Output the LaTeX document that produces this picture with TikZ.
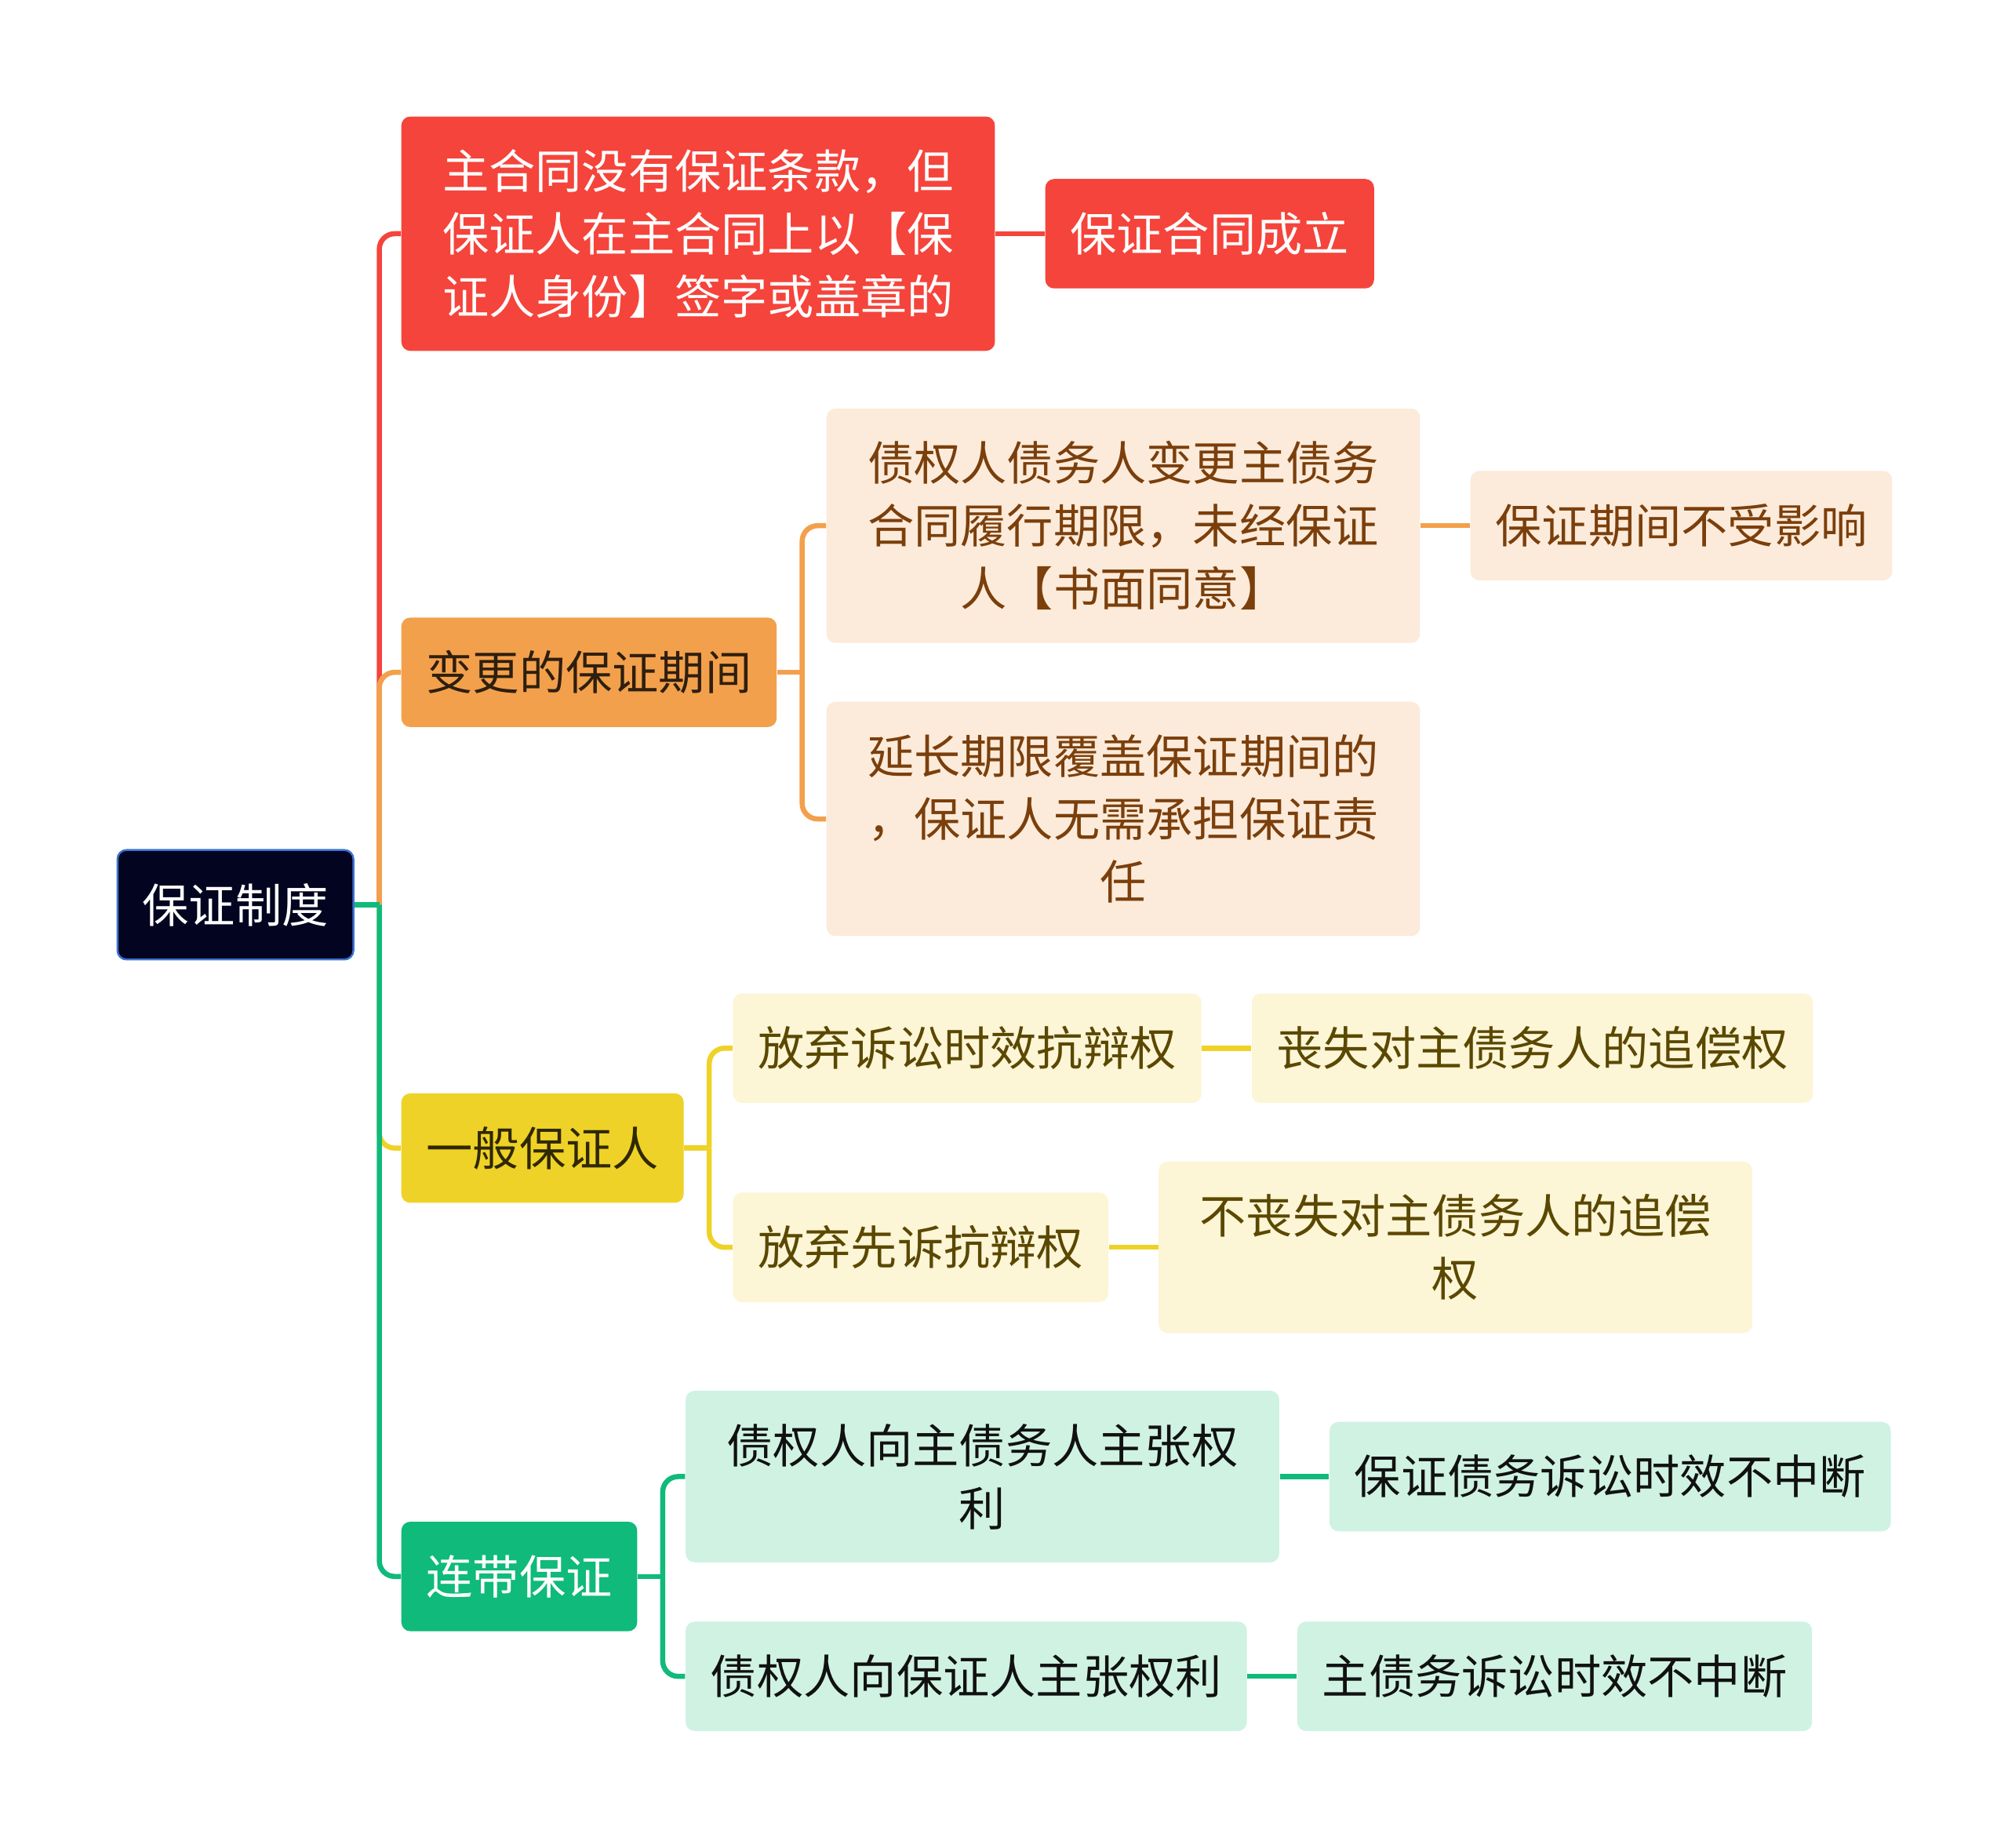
\documentclass[tikz,border=0pt]{standalone}
\usepackage{fontspec}
\newfontfamily\cjk{Noto Sans CJK SC}
\usepackage{xcolor}
\definecolor{cRoot}{HTML}{03041F}
\definecolor{cRootLine}{HTML}{3C72D4}
\definecolor{cRed}{HTML}{F5443B}
\definecolor{cOrg}{HTML}{F3A04C}
\definecolor{cOrgLt}{HTML}{FCEBDA}
\definecolor{cOrgDark}{HTML}{2E1F0E}
\definecolor{cOrgText}{HTML}{7B3F0C}
\definecolor{cYel}{HTML}{EFD227}
\definecolor{cYelLt}{HTML}{FCF5D6}
\definecolor{cYelDark}{HTML}{2F2800}
\definecolor{cYelText}{HTML}{5A4800}
\definecolor{cGrn}{HTML}{0FBA7A}
\definecolor{cGrnLt}{HTML}{CFF2E3}
\definecolor{cGrnText}{HTML}{111111}
\usepackage{tikz}
\usetikzlibrary{positioning}
\tikzset{
  node-base/.style={rounded corners=3.5pt,align=center,
    font=\cjk\fontsize{18.15}{24.5}\selectfont,
    inner xsep=9.75pt,inner ysep=2pt,minimum height=42.75pt},
  node-wide/.style={minimum width=231.75pt},
  node-root/.style={node-base,fill=cRoot,draw=cRootLine,line width=0.75pt,text=white},
  node-red/.style={node-base,fill=cRed,text=white},
  node-org/.style={node-base,fill=cOrg,text=cOrgDark},
  node-org-lt/.style={node-base,fill=cOrgLt,text=cOrgText},
  node-yel/.style={node-base,fill=cYel,text=cYelDark},
  node-yel-lt/.style={node-base,fill=cYelLt,text=cYelText},
  node-grn/.style={node-base,fill=cGrn,text=white},
  node-grn-lt/.style={node-base,fill=cGrnLt,text=cGrnText},
  link/.style={line width=2pt,draw=#1},
  branch/.style={line width=2pt,draw=#1,rounded corners=6pt},
}

\begin{document}
\begin{tikzpicture}[x=0.5pt,y=-0.5pt,node distance=19.25pt]
  \useasboundingbox (0,0) rectangle (1568,1443);

  \node[node-root,anchor=west] (root) at (91,706.5) {保证制度};

  \node[node-red,node-wide,minimum height=91.5pt,anchor=west] (red) at (313,182.5)
    {主合同没有保证条款，但\\保证人在主合同上以【保\\证人身份】签字或盖章的};
  \node[node-red,right=of red] (redA) {保证合同成立};

  \node[node-org,anchor=west] (org) at (313,525) {变更的保证期间};
  \node[node-org-lt,node-wide,minimum height=91.5pt,anchor=west] (orgA) at (645,410.5)
    {债权人债务人变更主债务\\合同履行期限，未经保证\\人【书面同意】};
  \node[node-org-lt,right=of orgA] (orgA1) {保证期间不受影响};
  \node[node-org-lt,node-wide,minimum height=91.5pt,anchor=west] (orgB) at (645,639.5)
    {延长期限覆盖保证期间的\\，保证人无需承担保证责\\任};

  \node[node-yel,anchor=west] (yel) at (313,896.5) {一般保证人};
  \node[node-yel-lt,anchor=west] (yelA) at (572,818.5) {放弃诉讼时效抗辩权};
  \node[node-yel-lt,right=of yelA] (yelA1) {丧失对主债务人的追偿权};
  \node[node-yel-lt,anchor=west] (yelB) at (572,974) {放弃先诉抗辩权};
  \node[node-yel-lt,node-wide,minimum height=67pt,right=of yelB] (yelB1)
    {不丧失对主债务人的追偿\\权};

  \node[node-grn,anchor=west] (grn) at (313,1231) {连带保证};
  \node[node-grn-lt,node-wide,minimum height=67pt,anchor=west] (grnA) at (535,1153)
    {债权人向主债务人主张权\\利};
  \node[node-grn-lt,right=of grnA] (grnA1) {保证债务诉讼时效不中断};
  \node[node-grn-lt,anchor=west] (grnB) at (535,1309) {债权人向保证人主张权利};
  \node[node-grn-lt,right=of grnB] (grnB1) {主债务诉讼时效不中断};

  % trunk
  \coordinate (hub) at ([xshift=9.75pt]root.east);
  \draw[branch=cRed] (hub) |- (red.west);
  \draw[branch=cOrg] (hub) |- (org.west);
  \draw[branch=cYel] (hub) |- (yel.west);
  \draw[branch=cGrn] (hub) |- (grn.west);
  \draw[link=cGrn] (root.east) -- (hub);

  % sub branches
  \coordinate (hubOrg) at ([xshift=9.75pt]org.east);
  \draw[link=cOrg] (org.east) -- (hubOrg);
  \draw[branch=cOrg] (hubOrg) |- (orgA.west);
  \draw[branch=cOrg] (hubOrg) |- (orgB.west);
  \coordinate (hubYel) at ([xshift=9.75pt]yel.east);
  \draw[link=cYel] (yel.east) -- (hubYel);
  \draw[branch=cYel] (hubYel) |- (yelA.west);
  \draw[branch=cYel] (hubYel) |- (yelB.west);
  \coordinate (hubGrn) at ([xshift=9.75pt]grn.east);
  \draw[link=cGrn] (grn.east) -- (hubGrn);
  \draw[branch=cGrn] (hubGrn) |- (grnA.west);
  \draw[branch=cGrn] (hubGrn) |- (grnB.west);

  % leaves
  \draw[link=cRed] (red) -- (redA);
  \draw[link=cOrg] (orgA) -- (orgA1);
  \draw[link=cYel] (yelA) -- (yelA1);
  \draw[link=cYel] (yelB) -- (yelB1);
  \draw[link=cGrn] (grnA) -- (grnA1);
  \draw[link=cGrn] (grnB) -- (grnB1);
\end{tikzpicture}
\end{document}
